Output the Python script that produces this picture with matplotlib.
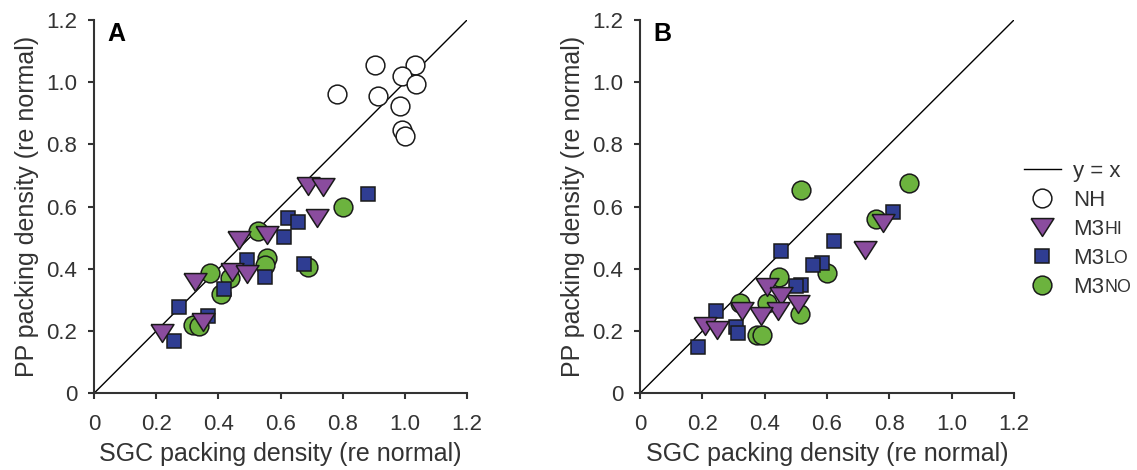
import numpy as np
import matplotlib
matplotlib.use("Agg")
import matplotlib.pyplot as plt
from matplotlib.lines import Line2D

plt.rcParams['font.family'] = ['Liberation Sans', 'DejaVu Sans']

# 読み取った値 (パネルA: 正常聴力とM3群)
nh_a_x = [0.904, 1.032, 0.992, 1.035, 0.780, 0.915, 0.983, 0.992, 1.001]
nh_a_y = [1.056, 1.056, 1.021, 0.994, 0.961, 0.956, 0.925, 0.847, 0.827]

hi_a_x = [0.689, 0.737, 0.716, 0.558, 0.466, 0.443, 0.493, 0.325, 0.352, 0.220]
hi_a_y = [0.667, 0.662, 0.563, 0.509, 0.493, 0.391, 0.384, 0.359, 0.230, 0.193]

lo_a_x = [0.880, 0.623, 0.657, 0.612, 0.491, 0.550, 0.675, 0.418, 0.273, 0.368, 0.257]
lo_a_y = [0.641, 0.563, 0.550, 0.502, 0.429, 0.373, 0.416, 0.334, 0.278, 0.249, 0.169]

no_a_x = [0.802, 0.526, 0.555, 0.550, 0.373, 0.437, 0.407, 0.689, 0.317, 0.339]
no_a_y = [0.600, 0.523, 0.434, 0.413, 0.386, 0.370, 0.318, 0.407, 0.220, 0.215]

# パネルB
hi_b_x = [0.780, 0.723, 0.408, 0.454, 0.507, 0.443, 0.326, 0.388, 0.208, 0.248]
hi_b_y = [0.547, 0.461, 0.341, 0.313, 0.287, 0.266, 0.266, 0.250, 0.216, 0.203]

lo_b_x = [0.812, 0.623, 0.454, 0.585, 0.555, 0.518, 0.502, 0.244, 0.308, 0.315, 0.187]
lo_b_y = [0.582, 0.488, 0.459, 0.420, 0.412, 0.348, 0.346, 0.266, 0.214, 0.195, 0.148]

no_b_x = [0.515, 0.863, 0.756, 0.600, 0.447, 0.321, 0.408, 0.513, 0.374, 0.393]
no_b_y = [0.654, 0.677, 0.559, 0.388, 0.375, 0.289, 0.289, 0.255, 0.187, 0.187]

unity = [0, 1.2]
ticks = [0, 0.2, 0.4, 0.6, 0.8, 1.0, 1.2]
tick_labels = ['0', '0.2', '0.4', '0.6', '0.8', '1.0', '1.2']

GREEN = '#6cb33e'
PURPLE = '#8a4c9e'
BLUE = '#2f3d92'
EDGE = '#1a1a1a'
TXT = '#333333'

# 横長の下向き三角
tri = [(-1, 0.78), (1, 0.78), (0, -0.78), (-1, 0.78)]

st_nh = dict(marker='o', ms=13.5, mfc='white', mec=EDGE, mew=1.1, ls='none')
st_hi = dict(marker=tri, ms=16.5, mfc=PURPLE, mec=EDGE, mew=1.1, ls='none')
st_lo = dict(marker='s', ms=10.3, mfc=BLUE, mec=EDGE, mew=1.1, ls='none')
st_no = dict(marker='o', ms=13.5, mfc=GREEN, mec=EDGE, mew=1.1, ls='none')

TICK_FS = 16
LABEL_FS = 18

fig = plt.figure(figsize=(11.37, 4.70), dpi=100)
axA = fig.add_axes([0.0827, 0.1632, 0.3281, 0.7943])
axB = fig.add_axes([0.5629, 0.1632, 0.3289, 0.7943])


def style(ax, letter):
    ax.set_xlim(0, 1.2)
    ax.set_ylim(0, 1.2)
    for s in ['top', 'right']:
        ax.spines[s].set_visible(False)
    for s in ['left', 'bottom']:
        ax.spines[s].set_linewidth(1.5)
        ax.spines[s].set_color(TXT)
    ax.set_xticks(ticks)
    ax.set_xticklabels(tick_labels)
    ax.set_yticks(ticks)
    ax.set_yticklabels(tick_labels)
    ax.tick_params(direction='out', length=4.5, width=1.5, color=TXT,
                   labelsize=TICK_FS, labelcolor=TXT)
    ax.tick_params(axis='y', pad=7.5)
    ax.tick_params(axis='x', pad=10.5)
    ax.set_xlabel('SGC packing density (re normal)', fontsize=LABEL_FS, color=TXT, labelpad=5)
    ax.set_ylabel('PP packing density (re normal)', fontsize=LABEL_FS, color=TXT, labelpad=5)
    ax.text(0.035, 0.995, letter, transform=ax.transAxes, fontsize=18,
            fontweight='bold', va='top', ha='left', color='black')


# A
axA.plot(unity, unity, color='black', lw=1.0, zorder=1)
axA.plot(nh_a_x, nh_a_y, **st_nh, zorder=2)
axA.plot(no_a_x, no_a_y, **st_no, zorder=3)
axA.plot(lo_a_x, lo_a_y, **st_lo, zorder=4)
axA.plot(hi_a_x, hi_a_y, **st_hi, zorder=5)
style(axA, 'A')

# B
axB.plot(unity, unity, color='black', lw=1.0, zorder=1)
axB.plot(no_b_x, no_b_y, **st_no, zorder=3)
axB.plot(lo_b_x, lo_b_y, **st_lo, zorder=4)
axB.plot(hi_b_x, hi_b_y, **st_hi, zorder=5)
style(axB, 'B')

# 凡例 (M3の後ろはスモールキャップ風に小さい文字を付ける)
handles = [Line2D([], [], color='black', lw=1.0),
           Line2D([], [], **st_nh),
           Line2D([], [], **st_hi),
           Line2D([], [], **st_lo),
           Line2D([], [], **st_no)]
labels = ['y = x', 'NH', 'M3', 'M3', 'M3']
leg = axB.legend(handles, labels, loc='upper left', bbox_to_anchor=(0.9006, 0.6585),
                 bbox_transform=fig.transFigure, frameon=False, fontsize=16,
                 handlelength=1.65, handletextpad=0.55, labelspacing=0.36,
                 borderpad=0, borderaxespad=0)
for t in leg.get_texts():
    t.set_color(TXT)
for t, sc in zip(leg.get_texts()[2:], ['HI', 'LO', 'NO']):
    axB.annotate(sc, xy=(1, 0), xycoords=t, xytext=(0.3, 0.9),
                 textcoords='offset points', fontsize=12.8, color=TXT,
                 va='bottom', ha='left', zorder=10, annotation_clip=False)

fig.savefig('out.png', dpi=100)
